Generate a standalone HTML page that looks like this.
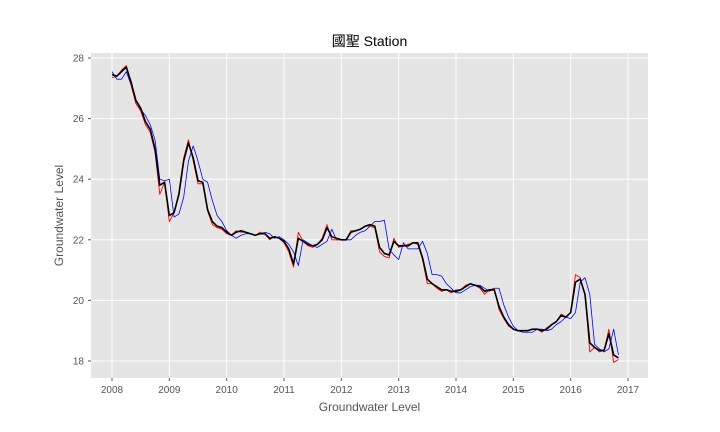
<!DOCTYPE html>
<html><head><meta charset="utf-8"><style>
html,body{margin:0;padding:0;background:#fff;width:720px;height:432px;overflow:hidden}
text{font-family:"Liberation Sans","Noto Sans CJK TC",sans-serif}
</style></head><body>
<svg id="chart" width="720" height="432" xmlns="http://www.w3.org/2000/svg">
<rect x="91" y="53" width="557" height="325" fill="#e5e5e5"/>
<g id="grid"></g>
<g id="series"></g>
<g id="ticks"></g>
<text x="369.5" y="46" text-anchor="middle" font-size="14" fill="#000">國聖 Station</text>
<text x="369.5" y="411" text-anchor="middle" font-size="12" fill="#555">Groundwater Level</text>
<text transform="translate(63,215.5) rotate(-90)" text-anchor="middle" font-size="12" fill="#555">Groundwater Level</text>
</svg>
<script>
const startYear = 2008;
const xTicks = [2008,2009,2010,2011,2012,2013,2014,2015,2016,2017];
const yTicks = [18,20,22,24,26,28];
const blackVals = [27.45,27.4,27.55,27.7,27.2,26.6,26.35,25.9,25.65,25.0,23.8,23.9,
22.8,22.9,23.5,24.6,25.2,24.7,23.95,23.9,23.0,22.6,22.45,22.4,
22.25,22.15,22.25,22.3,22.25,22.2,22.15,22.2,22.2,22.05,22.1,22.05,
21.95,21.7,21.2,22.05,21.95,21.85,21.8,21.85,22.0,22.4,22.1,22.05,
22.0,22.0,22.25,22.3,22.35,22.45,22.5,22.45,21.75,21.55,21.5,21.95,
21.8,21.8,21.8,21.9,21.9,21.4,20.7,20.55,20.45,20.35,20.35,20.3,
20.3,20.35,20.45,20.55,20.5,20.45,20.3,20.35,20.35,19.8,19.45,19.2,
19.05,19.0,19.0,19.0,19.05,19.05,19.0,19.05,19.2,19.3,19.5,19.45,
19.6,20.6,20.7,20.2,18.6,18.45,18.35,18.35,18.9,18.2,18.1];
const redVals = [27.35,27.4,27.6,27.75,27.1,26.5,26.25,25.8,25.55,24.9,23.5,23.9,
22.6,22.9,23.55,24.7,25.3,24.6,23.85,23.85,22.95,22.5,22.4,22.35,
22.2,22.15,22.3,22.25,22.25,22.2,22.15,22.25,22.2,22.0,22.1,22.05,
21.9,21.6,21.1,22.25,21.95,21.8,21.75,21.85,22.05,22.5,22.0,22.0,
22.0,22.0,22.3,22.3,22.35,22.45,22.45,22.4,21.6,21.45,21.4,22.05,
21.75,21.8,21.85,21.9,21.85,21.35,20.55,20.55,20.4,20.3,20.35,20.25,
20.35,20.35,20.5,20.55,20.5,20.4,20.2,20.35,20.4,19.7,19.4,19.15,
19.05,19.0,19.0,19.0,19.05,19.05,18.95,19.1,19.2,19.3,19.55,19.45,
19.6,20.85,20.75,20.2,18.3,18.45,18.3,18.35,19.05,17.95,18.05];
const blueVals = [27.55,27.3,27.3,27.55,27.1,26.5,26.3,26.1,25.8,25.3,24.0,23.95,
24.0,22.75,22.85,23.4,24.6,25.1,24.6,24.0,23.9,23.3,22.8,22.6,
22.3,22.15,22.05,22.15,22.2,22.2,22.15,22.2,22.25,22.2,22.05,22.1,
22.0,21.85,21.6,21.15,22.0,21.9,21.8,21.75,21.85,21.95,22.35,22.0,
22.0,22.0,22.0,22.15,22.25,22.3,22.45,22.6,22.6,22.65,21.7,21.5,
21.35,21.9,21.7,21.7,21.7,21.95,21.55,20.85,20.85,20.8,20.55,20.4,
20.25,20.25,20.35,20.45,20.5,20.5,20.4,20.3,20.4,20.4,19.85,19.45,
19.15,19.0,18.95,18.95,18.95,19.05,19.05,19.0,19.05,19.2,19.3,19.45,
19.4,19.6,20.6,20.75,20.2,18.55,18.4,18.3,18.4,19.05,18.2];
const X0=112, XPY=(628-112)/9, Y0=361, YPU=(361-58)/10;
const xs = t => X0 + (t-2008)*XPY;
const ys = v => Y0 - (v-18)*YPU;
const NS="http://www.w3.org/2000/svg";
const grid=document.getElementById('grid'), ticks=document.getElementById('ticks'), series=document.getElementById('series');
function mk(tag,attrs,parent){const e=document.createElementNS(NS,tag);for(const k in attrs)e.setAttribute(k,attrs[k]);parent.appendChild(e);return e;}
xTicks.forEach(t=>{
  const g=mk('line',{x1:xs(t),x2:xs(t),y1:53,y2:378,stroke:'#fff','stroke-width':1},grid);
  
  
  const tl=mk('text',{x:xs(t),y:393,'text-anchor':'middle','font-size':10,fill:'#555'},ticks);
  tl.textContent=t;
  
  
  const tm=mk('line',{x1:xs(t),x2:xs(t),y1:378,y2:381,stroke:'#555'},ticks);
  
  
});
yTicks.forEach(v=>{
  const g=mk('line',{x1:91,x2:648,y1:ys(v),y2:ys(v),stroke:'#fff','stroke-width':1},grid);
  
  
  const tl=mk('text',{x:84,y:ys(v)+3.5,'text-anchor':'end','font-size':10,fill:'#555'},ticks);
  tl.textContent=v;
  
  
  const tm=mk('line',{x1:88,x2:91,y1:ys(v),y2:ys(v),stroke:'#555'},ticks);
  
  
});
function line(vals,color,w,name){
  const d=vals.map((v,i)=>(i?'L':'M')+xs(startYear+i/12).toFixed(2)+','+ys(v).toFixed(2)).join('');
  const p=mk('path',{d:d,fill:'none',stroke:color,'stroke-width':w,'stroke-linejoin':'round'},series);
  
  
}
line(blueVals,'#0000ff',0.8,'blue-series-line');
line(redVals,'#ff0000',0.9,'red-series-line');
line(blackVals,'#000000',1.6,'black-series-line');
</script>
</body></html>
